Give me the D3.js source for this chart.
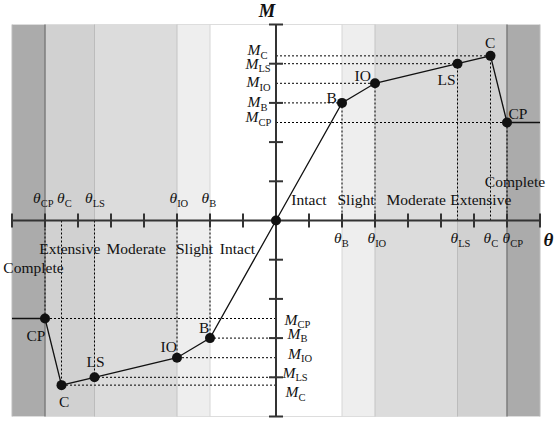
<!DOCTYPE html>
<html>
<head>
<meta charset="utf-8">
<script src="https://cdn.jsdelivr.net/npm/d3@7"></script>
<style>
  html, body { margin: 0; padding: 0; background: #fff; }
  svg { display: block; font-family: "Liberation Serif", "Times New Roman", serif; }
</style>
</head>
<body>
<svg id="chart" width="555" height="426"></svg>
<script>
// Backbone curve of a hinge: performance points (rotation θ, moment M), symmetric about the origin
const states = ["B", "IO", "LS", "C", "CP"];
const theta = [2, 3, 5.5, 6.5, 7];
const moment = [3, 3.5, 4, 4.2, 2.5];
const damageStates = ["Intact", "Slight", "Moderate", "Extensive", "Complete"];
const thetaMax = 8;
const momentMax = 5;
const thetaTicks = d3.range(-8, 9, 1);
const momentTicks = d3.range(-5, 6, 1);

const svg = d3.select("#chart");
const x = d3.scaleLinear().domain([-thetaMax, thetaMax]).range([12, 540]);
const y = d3.scaleLinear().domain([-momentMax, momentMax]).range([416.5, 24.5]);
const x0 = x(0), y0 = y(0);
const T = Object.fromEntries(states.map((s, i) => [s, theta[i]]));
const Mv = Object.fromEntries(states.map((s, i) => [s, moment[i]]));

// Damage-state bands: Intact 0–θB, Slight θB–θIO, Moderate θIO–θLS, Extensive θLS–θCP, Complete θCP–end
const edges = [0, T.B, T.IO, T.LS, T.CP, thetaMax];
const bandFill = ["#ffffff", "#eeeeee", "#dcdcdc", "#d1d1d1", "#ababab"];
const bands = damageStates.map((name, i) => ({ name, a: edges[i], b: edges[i + 1], fill: bandFill[i] }));

const gBand = svg.append("g");
[1, -1].forEach(sgn => {
  gBand.selectAll(null).data(bands).enter().append("rect")
    .attr("x", d => Math.min(x(sgn * d.a), x(sgn * d.b)))
    .attr("width", d => Math.abs(x(d.b) - x(d.a)))
    .attr("y", y(momentMax)).attr("height", y(-momentMax) - y(momentMax))
    .attr("fill", d => d.fill);
});
// thin frame at the top and bottom of the plotting area
[momentMax, -momentMax].forEach(v => {
  gBand.append("line").attr("x1", x(-thetaMax)).attr("x2", x(thetaMax))
    .attr("y1", y(v)).attr("y2", y(v)).attr("stroke", "#dddddd").attr("stroke-width", 1);
});
// band boundaries
const edgeStroke = ["#d6d6d6", "#c4c4c4", "#bcbcbc", "#7d7d7d", "#bdbdbd"];
[1, -1].forEach(sgn => {
  edges.slice(1).forEach((e, i) => {
    gBand.append("line").attr("x1", x(sgn * e)).attr("x2", x(sgn * e))
      .attr("y1", y(momentMax)).attr("y2", y(-momentMax))
      .attr("stroke", edgeStroke[i]).attr("stroke-width", i === 3 ? 1.5 : 1);
  });
});

// dotted guides from each point to both axes
const gGuide = svg.append("g").attr("stroke", "#000").attr("stroke-width", 1).attr("stroke-dasharray", "2,2");
[1, -1].forEach(sgn => {
  states.forEach(s => {
    gGuide.append("line").attr("x1", x0).attr("x2", x(sgn * T[s]))
      .attr("y1", y(sgn * Mv[s])).attr("y2", y(sgn * Mv[s]));
    gGuide.append("line").attr("x1", x(sgn * T[s])).attr("x2", x(sgn * T[s]))
      .attr("y1", y0).attr("y2", y(sgn * Mv[s]));
  });
});

// axes with ticks and end caps
const gAxis = svg.append("g").attr("stroke", "#333").attr("stroke-width", 2);
gAxis.append("line").attr("x1", x(-thetaMax)).attr("x2", x(thetaMax)).attr("y1", y0).attr("y2", y0);
gAxis.append("line").attr("x1", x0).attr("x2", x0).attr("y1", y(momentMax)).attr("y2", y(-momentMax));
gAxis.selectAll(null).data(thetaTicks.filter(t => t !== 0)).enter().append("line")
  .attr("x1", d => x(d)).attr("x2", d => x(d)).attr("y1", y0 - 7).attr("y2", y0 + 7);
gAxis.selectAll(null).data(momentTicks.filter(t => t !== 0)).enter().append("line")
  .attr("y1", d => y(d)).attr("y2", d => y(d)).attr("x1", x0 - 7).attr("x2", x0 + 7);

// backbone curve
const curvePts = [[-thetaMax, -Mv.CP]]
  .concat(states.slice().reverse().map(s => [-T[s], -Mv[s]]))
  .concat([[0, 0]])
  .concat(states.map(s => [T[s], Mv[s]]))
  .concat([[thetaMax, Mv.CP]]);
svg.append("path").datum(curvePts)
  .attr("d", d3.line().x(d => x(d[0])).y(d => y(d[1])))
  .attr("fill", "none").attr("stroke", "#111").attr("stroke-width", 1.3);

const dots = [[0, 0]].concat(states.flatMap(s => [[T[s], Mv[s]], [-T[s], -Mv[s]]]));
svg.selectAll(null).data(dots).enter().append("circle")
  .attr("cx", d => x(d[0])).attr("cy", d => y(d[1])).attr("r", 5).attr("fill", "#111");

const fs = 15.5;
function subLabel(g, px, py, main, sub, italic) {
  const t = g.append("text").attr("x", px).attr("y", py).attr("font-size", fs).attr("fill", "#111");
  t.append("tspan").text(main).attr("font-style", italic ? "italic" : "normal");
  t.append("tspan").text(sub).attr("font-size", 10.5).attr("dy", 3.5);
  return t;
}
const gText = svg.append("g");

// M labels on the moment axis
const mPos = { B: [-28.5, 4.3], IO: [-29.5, 4], LS: [-30.5, 5], C: [-28.5, -0.5], CP: [-30.5, -0.3] };
const mNeg = { B: [11.5, 0.7], IO: [12, 1], LS: [6.5, 0.5], C: [9.5, 12], CP: [8.5, 6] };
states.forEach(s => {
  subLabel(gText, x0 + mPos[s][0], y(Mv[s]) + mPos[s][1], "M", s, true);
  subLabel(gText, x0 + mNeg[s][0], y(-Mv[s]) + mNeg[s][1], "M", s, true);
});

// θ labels on the rotation axis
const tPos = { B: -8, IO: -7.5, LS: -7, C: -7, CP: -4.5 };
const tNeg = { B: -8.5, IO: -7.5, LS: -9.5, C: -4.5, CP: -12 };
states.forEach(s => {
  subLabel(gText, x(T[s]) + tPos[s], y0 + 22.5, "θ", s, true);
  subLabel(gText, x(-T[s]) + tNeg[s], y0 - 17.5, "θ", s, true);
});

// performance point names
const pPos = { B: [-15.5, 0], IO: [-20.5, -2], LS: [-20, 21], C: [-5.5, -7.5], CP: [1.5, -4] };
const pNeg = { B: [-11, -5], IO: [-16.5, -5.5], LS: [-8, -10], C: [-2.5, 22], CP: [-18.5, 22] };
states.forEach(s => {
  gText.append("text").attr("x", x(T[s]) + pPos[s][0]).attr("y", y(Mv[s]) + pPos[s][1])
    .attr("font-size", fs).attr("fill", "#111").text(s);
  gText.append("text").attr("x", x(-T[s]) + pNeg[s][0]).attr("y", y(-Mv[s]) + pNeg[s][1])
    .attr("font-size", fs).attr("fill", "#111").text(s);
});

// damage state names, centred in their bands
const dsPos = { Intact: [0, 205], Slight: [-2.5, 205], Moderate: [0, 205], Extensive: [-1.5, 205], Complete: [-8.5, 187] };
const dsNeg = { Intact: [-5.5, 253.5], Slight: [1, 253.5], Moderate: [0.5, 253.5], Extensive: [0, 253.5], Complete: [5, 273] };
bands.forEach(b => {
  const cPos = (x(b.a) + x(b.b)) / 2, cNeg = (x(-b.a) + x(-b.b)) / 2;
  gText.append("text").attr("x", cPos + dsPos[b.name][0]).attr("y", dsPos[b.name][1])
    .attr("text-anchor", "middle").attr("font-size", fs).attr("fill", "#111").text(b.name);
  gText.append("text").attr("x", cNeg + dsNeg[b.name][0]).attr("y", dsNeg[b.name][1])
    .attr("text-anchor", "middle").attr("font-size", fs).attr("fill", "#111").text(b.name);
});

// axis titles
gText.append("text").attr("x", x0 - 9).attr("y", 17).attr("text-anchor", "middle")
  .attr("font-size", 18.5).attr("font-weight", "bold").attr("font-style", "italic").attr("fill", "#111").text("M");
gText.append("text").attr("x", 543.5).attr("y", y0 + 25.5)
  .attr("font-size", 19).attr("font-weight", "bold").attr("font-style", "italic").attr("fill", "#111").text("θ");
</script>
</body>
</html>
